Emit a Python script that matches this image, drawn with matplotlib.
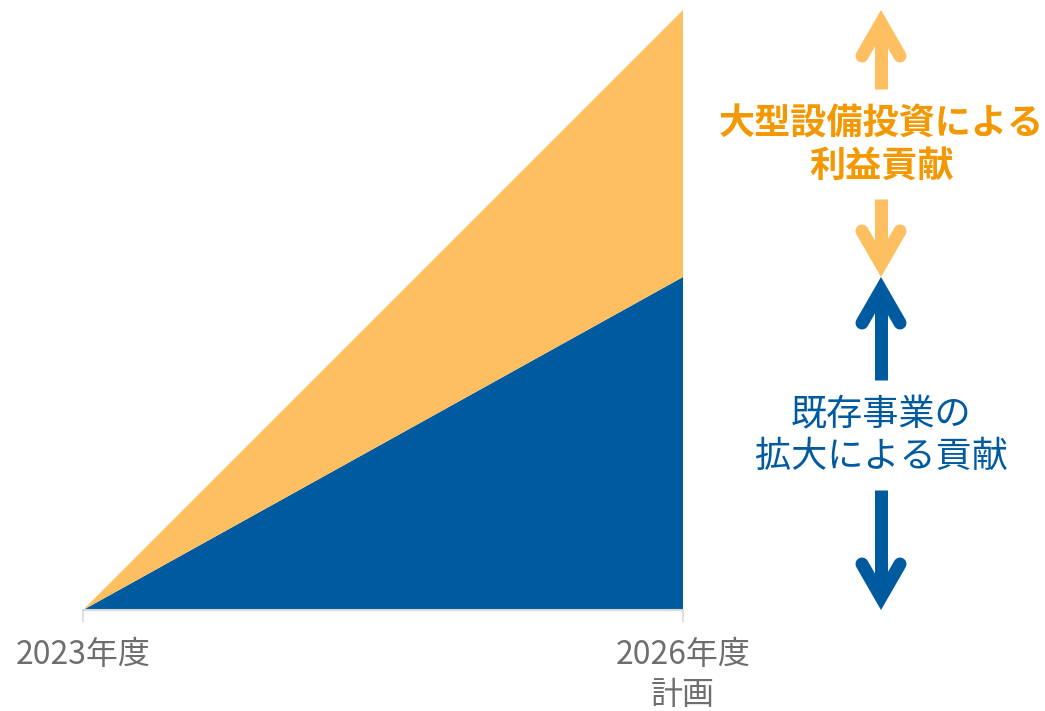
import matplotlib

matplotlib.use("Agg")
import matplotlib.pyplot as plt

plt.rcParams["font.family"] = ["Noto Sans CJK JP", "DejaVu Sans"]

# data: contribution to profit growth, 2023 -> 2026 plan (indexed, total = 100)
YEAR_LABELS = ["2023年度", "2026年度\n計画"]
X_POS = [0, 1]
EXISTING = [0, 55.5]   # 既存事業の拡大による貢献
CAPEX = [0, 44.5]      # 大型設備投資による利益貢献

LABEL_CAPEX = "大型設備投資による\n利益貢献"
LABEL_EXISTING = "既存事業の\n拡大による貢献"

BLUE = "#005A9F"
ORANGE = "#FDBF5F"
ORANGE_TEXT = "#F39800"
GREY_TEXT = "#6E6E6E"
AXIS_GREY = "#D9D9D9"

W, H = 1045, 711
AX_W, AX_H = 600, 600
ARROW_X = 1.33          # in x data units, right of the plot area
LW = 13 * 72 / 100      # 13 px stroke

fig = plt.figure(figsize=(W / 100, H / 100), dpi=100)
ax = fig.add_axes([83 / W, 101 / H, AX_W / W, AX_H / H])

ax.stackplot(X_POS, EXISTING, CAPEX, colors=[BLUE, ORANGE], linewidth=0)
ax.set_xlim(0, 1)
ax.set_ylim(0, 100)

# pixel -> data helpers
px = 1.0 / AX_W
py = 100.0 / AX_H


def double_arrow(y_lo, y_hi, arrow_color, text, shift=0.0, **text_kw):
    for tip, sign in [(y_hi, -1), (y_lo, 1)]:
        vertex = tip + sign * 13 * py
        arm = tip + sign * 46 * py
        ax.plot([ARROW_X - 19 * px, ARROW_X, ARROW_X + 19 * px], [arm, vertex, arm],
                color=arrow_color, lw=LW, solid_capstyle="round", solid_joinstyle="miter",
                clip_on=False)
    mid = (y_lo + y_hi) / 2 + shift
    ax.plot([ARROW_X, ARROW_X], [y_hi - 13 * py, mid + 55 * py], color=arrow_color, lw=LW,
            solid_capstyle="butt", clip_on=False)
    ax.plot([ARROW_X, ARROW_X], [mid - 55 * py, y_lo + 13 * py], color=arrow_color, lw=LW,
            solid_capstyle="butt", clip_on=False)
    ax.text(ARROW_X, mid - 0.3, text, ha="center", va="center", fontsize=26,
            linespacing=1.2, clip_on=False, **text_kw)


top_existing = EXISTING[-1]
total = EXISTING[-1] + CAPEX[-1]
double_arrow(top_existing, total, ORANGE, LABEL_CAPEX, color=ORANGE_TEXT, fontweight="bold")
double_arrow(0, top_existing, BLUE, LABEL_EXISTING, shift=1.5, color=BLUE)

ax.set_xticks(X_POS, YEAR_LABELS)
ax.set_yticks([])
ax.tick_params(axis="x", length=8.6, width=1.2, color=AXIS_GREY, labelsize=23,
               labelcolor=GREY_TEXT, pad=12.5)
for lbl in ax.get_xticklabels():
    lbl.set_linespacing(1.3)

for side in ["top", "right", "left"]:
    ax.spines[side].set_visible(False)
ax.spines["bottom"].set_color(AXIS_GREY)
ax.spines["bottom"].set_linewidth(1.5)

fig.savefig("out.png", dpi=100)
